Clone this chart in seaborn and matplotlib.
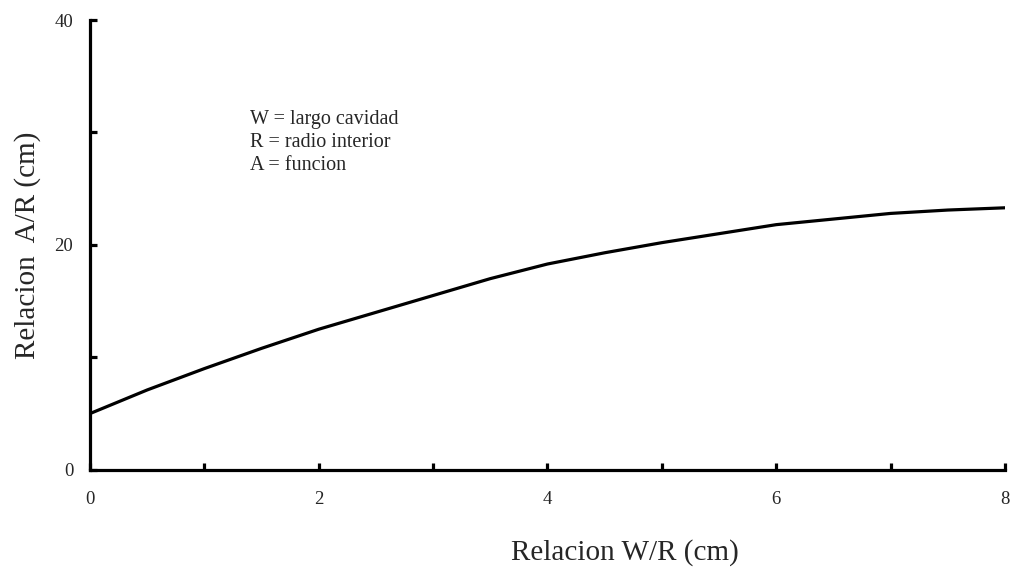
import matplotlib
matplotlib.use('Agg')
import matplotlib.pyplot as plt
import seaborn as sns
import pandas as pd

# valores
wr = [0, 0.5, 1, 1.5, 2, 2.5, 3, 3.5, 4, 4.5, 5, 5.5, 6, 6.5, 7, 7.5, 8]
ar = [5.0, 7.1, 9.0, 10.8, 12.5, 14.0, 15.5, 17.0, 18.3, 19.3, 20.2, 21.0, 21.8, 22.3, 22.8, 23.1, 23.3]
notas = ['W = largo cavidad', 'R = radio interior', 'A = funcion']

df = pd.DataFrame({'WR': wr, 'AR': ar})

sns.set_style('white')
plt.rcParams['font.family'] = ['Liberation Serif', 'DejaVu Serif']

fig = plt.figure(figsize=(10.11, 5.8), dpi=100)
ax = fig.add_axes([0.089, 0.19, 0.905, 0.7755])

sns.lineplot(data=df, x='WR', y='AR', color='black', linewidth=2.3, ax=ax)

ax.set_xlim(0, 8)
ax.set_ylim(0, 40)
ax.set_xticks([0, 2, 4, 6, 8])
ax.set_xticks([1, 3, 5, 7], minor=True)
ax.set_yticks([0, 20, 40])
ax.set_yticks([10, 30], minor=True)

sns.despine(ax=ax)
for s in ['left', 'bottom']:
    ax.spines[s].set_linewidth(2.3)
    ax.spines[s].set_color('black')

ax.tick_params(which='both', direction='in', length=5, width=2.3, color='black',
               bottom=True, left=True, labelsize=13.5)
ax.tick_params(axis='x', which='major', pad=15)
ax.tick_params(axis='y', which='major', pad=12)

ax.set_xlabel('Relacion W/R (cm)', fontsize=21)
ax.set_ylabel('Relacion  A/R (cm)', fontsize=21)
ax.xaxis.set_label_coords(0.585, -0.155)
ax.yaxis.set_label_coords(-0.054, 0.5)

ax.text(0.175, 0.8, '\n'.join(notas), transform=ax.transAxes, fontsize=14.5,
        va='top', ha='left', linespacing=1.3)

fig.savefig('out.png', dpi=100)
